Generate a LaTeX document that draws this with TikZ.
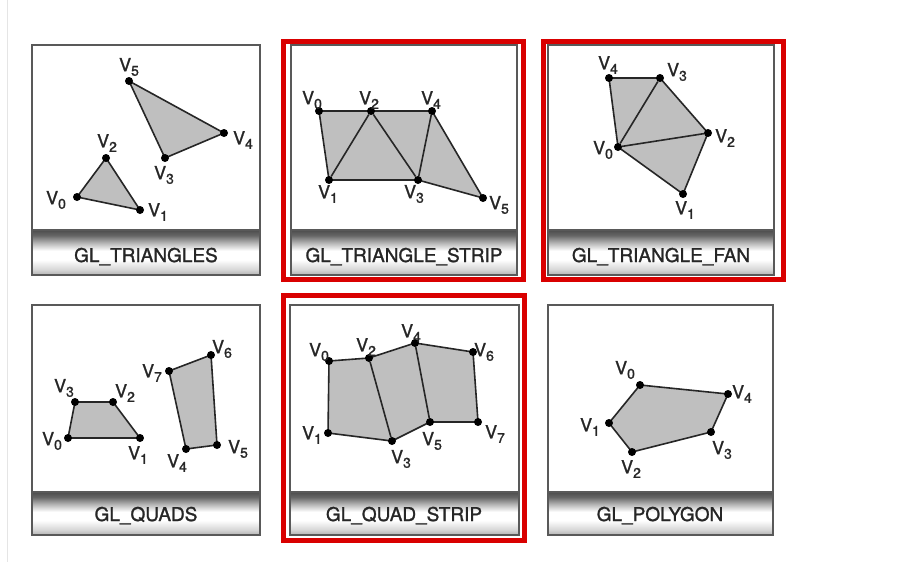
\documentclass[tikz,border=0pt]{standalone}
\usepackage{fontspec}
\setmainfont{TeX Gyre Heros}
\newfontfamily\labfont{TeX Gyre Heros}[FakeBold=1.3]
\usepackage{tikz}
\usetikzlibrary{backgrounds}
\pgfdeclareverticalshading{bandshade}{100bp}{color(0bp)=(black!30); color(25bp)=(black!30); color(31bp)=(black!16); color(42bp)=(white); color(52bp)=(white); color(61bp)=(black!30); color(69bp)=(black!60); color(75bp)=(black!70); color(100bp)=(black!70)}
\newcommand{\vn}[1]{V\raisebox{-4.5pt}{\fontsize{14}{14}\selectfont#1}}
\tikzstyle{frame}=[draw=black!65, line width=1.4pt]
\tikzstyle{hilite}=[draw=red!85!black, line width=5pt]
\tikzstyle{band}=[shading=bandshade, draw=black!65, line width=1.2pt]
\tikzstyle{title}=[font=\labfont\fontsize{19}{22}\selectfont, text=black!85, anchor=base]
\tikzstyle{pt}=[circle, fill=black, inner sep=0pt, minimum size=8pt]
\tikzstyle{vl}=[inner sep=0pt, font=\labfont\fontsize{18}{20}\selectfont, text=black!85]
\tikzstyle{face}=[fill=black!25, draw=black!85, line width=1.6pt, line join=round]
\tikzstyle{edge}=[draw=black!85, line width=1.6pt]

\begin{document}
\begin{tikzpicture}[x=1pt,y=-1pt]
	\begin{pgfonlayer}{background}
		\fill[white] (0,0) rectangle (920,562);
	\end{pgfonlayer}
	\useasboundingbox (0,0) rectangle (920,562);
	\draw[black!10, line width=1pt] (7.5,0) -- (7.5,562);

	%The frames
	\draw[frame] (32,45) rectangle (260,275);
	\draw[frame] (291,45) rectangle (517,275);
	\draw[frame] (548,45) rectangle (774,275);
	\draw[frame] (32,305) rectangle (260,535);
	\draw[frame] (290,305) rectangle (519,535);
	\draw[frame] (548,305) rectangle (773,535);

	%The red highlights
	\draw[hilite] (283.5,41.5) rectangle (523.5,279.5);
	\draw[hilite] (543.5,41.5) rectangle (783.5,279.5);
	\draw[hilite] (283.5,295.5) rectangle (524.5,540.5);

	%The caption bands
	\draw[band] (32,230) rectangle (260,275);
	\draw[band] (291,230) rectangle (517,275);
	\draw[band] (548,230) rectangle (774,275);
	\draw[band] (32,492) rectangle (260,535);
	\draw[band] (290,492) rectangle (519,535);
	\draw[band] (548,492) rectangle (773,535);
	\node[title] (c1) at (146,262) {GL\_TRIANGLES};
	\node[title] (c2) at (404,262) {GL\_TRIANGLE\_STRIP};
	\node[title] (c3) at (661,262) {GL\_TRIANGLE\_FAN};
	\node[title] (c4) at (146,521) {GL\_QUADS};
	\node[title] (c5) at (404,521) {GL\_QUAD\_STRIP};
	\node[title] (c6) at (660,521) {GL\_POLYGON};

	%GL_TRIANGLES
	\draw (77,197) node[pt] (t0) {};
	\draw (140,210) node[pt] (t1) {};
	\draw (106,158) node[pt] (t2) {};
	\draw (165,158) node[pt] (t3) {};
	\draw (224,133) node[pt] (t4) {};
	\draw (129,81) node[pt] (t5) {};
	\draw (56,200) node[vl] (lt0) {\vn0};
	\draw (158,212) node[vl] (lt1) {\vn1};
	\draw (107,143) node[vl] (lt2) {\vn2};
	\draw (164,175) node[vl] (lt3) {\vn3};
	\draw (243,140) node[vl] (lt4) {\vn4};
	\draw (129,67) node[vl] (lt5) {\vn5};
	\begin{pgfonlayer}{background}
		\draw[face] (t0.center) -- (t1.center) -- (t2.center) -- cycle;
		\draw[face] (t3.center) -- (t4.center) -- (t5.center) -- cycle;
	\end{pgfonlayer}

	%GL_TRIANGLE_STRIP
	\draw (319,111) node[pt] (s0) {};
	\draw (329,180) node[pt] (s1) {};
	\draw (371,111) node[pt] (s2) {};
	\draw (418,180) node[pt] (s3) {};
	\draw (432,111) node[pt] (s4) {};
	\draw (483,198) node[pt] (s5) {};
	\draw (312,100) node[vl] (ls0) {\vn0};
	\draw (328,194) node[vl] (ls1) {\vn1};
	\draw (369,100) node[vl] (ls2) {\vn2};
	\draw (414,194) node[vl] (ls3) {\vn3};
	\draw (431,100) node[vl] (ls4) {\vn4};
	\draw (499,205) node[vl] (ls5) {\vn5};
	\begin{pgfonlayer}{background}
		\draw[face] (s0.center) -- (s2.center) -- (s4.center) -- (s5.center) -- (s3.center) -- (s1.center) -- cycle;
		\draw[edge] (s1) -- (s2);
		\draw[edge] (s2) -- (s3);
		\draw[edge] (s3) -- (s4);
	\end{pgfonlayer}

	%GL_TRIANGLE_FAN
	\draw (618,147) node[pt] (f0) {};
	\draw (683,194) node[pt] (f1) {};
	\draw (708,133) node[pt] (f2) {};
	\draw (660,78) node[pt] (f3) {};
	\draw (609,78) node[pt] (f4) {};
	\draw (603,150) node[vl] (lf0) {\vn0};
	\draw (685,210) node[vl] (lf1) {\vn1};
	\draw (725,138) node[vl] (lf2) {\vn2};
	\draw (677,72) node[vl] (lf3) {\vn3};
	\draw (608,65) node[vl] (lf4) {\vn4};
	\begin{pgfonlayer}{background}
		\draw[face] (f0.center) -- (f1.center) -- (f2.center) -- (f3.center) -- (f4.center) -- cycle;
		\draw[edge] (f0) -- (f2);
		\draw[edge] (f0) -- (f3);
	\end{pgfonlayer}

	%GL_QUADS
	\draw (68,438) node[pt] (q0) {};
	\draw (140,438) node[pt] (q1) {};
	\draw (113,402) node[pt] (q2) {};
	\draw (75,402) node[pt] (q3) {};
	\draw (186,449) node[pt] (q4) {};
	\draw (217,445) node[pt] (q5) {};
	\draw (211,355) node[pt] (q6) {};
	\draw (169,371) node[pt] (q7) {};
	\draw (52,441) node[vl] (lq0) {\vn0};
	\draw (138,455) node[vl] (lq1) {\vn1};
	\draw (125,393) node[vl] (lq2) {\vn2};
	\draw (64,388) node[vl] (lq3) {\vn3};
	\draw (177,463) node[vl] (lq4) {\vn4};
	\draw (238,449) node[vl] (lq5) {\vn5};
	\draw (222,349) node[vl] (lq6) {\vn6};
	\draw (152,373) node[vl] (lq7) {\vn7};
	\begin{pgfonlayer}{background}
		\draw[face] (q0.center) -- (q1.center) -- (q2.center) -- (q3.center) -- cycle;
		\draw[face] (q4.center) -- (q5.center) -- (q6.center) -- (q7.center) -- cycle;
	\end{pgfonlayer}

	%GL_QUAD_STRIP
	\draw (329,361) node[pt] (r0) {};
	\draw (328,433) node[pt] (r1) {};
	\draw (369,358) node[pt] (r2) {};
	\draw (392,441) node[pt] (r3) {};
	\draw (415,343) node[pt] (r4) {};
	\draw (430,422) node[pt] (r5) {};
	\draw (473,352) node[pt] (r6) {};
	\draw (478,422) node[pt] (r7) {};
	\draw (319,352) node[vl] (lr0) {\vn0};
	\draw (312,435) node[vl] (lr1) {\vn1};
	\draw (366,347) node[vl] (lr2) {\vn2};
	\draw (401,459) node[vl] (lr3) {\vn3};
	\draw (411,333) node[vl] (lr4) {\vn4};
	\draw (432,441) node[vl] (lr5) {\vn5};
	\draw (484,352) node[vl] (lr6) {\vn6};
	\draw (495,434) node[vl] (lr7) {\vn7};
	\begin{pgfonlayer}{background}
		\draw[face] (r0.center) -- (r2.center) -- (r4.center) -- (r6.center) -- (r7.center) -- (r5.center) -- (r3.center) -- (r1.center) -- cycle;
		\draw[edge] (r2) -- (r3);
		\draw[edge] (r4) -- (r5);
	\end{pgfonlayer}

	%GL_POLYGON
	\draw (640,385) node[pt] (p0) {};
	\draw (609,423) node[pt] (p1) {};
	\draw (632,452) node[pt] (p2) {};
	\draw (711,432) node[pt] (p3) {};
	\draw (728,394) node[pt] (p4) {};
	\draw (625,370) node[vl] (lp0) {\vn0};
	\draw (590,427) node[vl] (lp1) {\vn1};
	\draw (631,469) node[vl] (lp2) {\vn2};
	\draw (722,450) node[vl] (lp3) {\vn3};
	\draw (742,394) node[vl] (lp4) {\vn4};
	\begin{pgfonlayer}{background}
		\draw[face] (p0.center) -- (p1.center) -- (p2.center) -- (p3.center) -- (p4.center) -- cycle;
	\end{pgfonlayer}
\end{tikzpicture}
\end{document}
